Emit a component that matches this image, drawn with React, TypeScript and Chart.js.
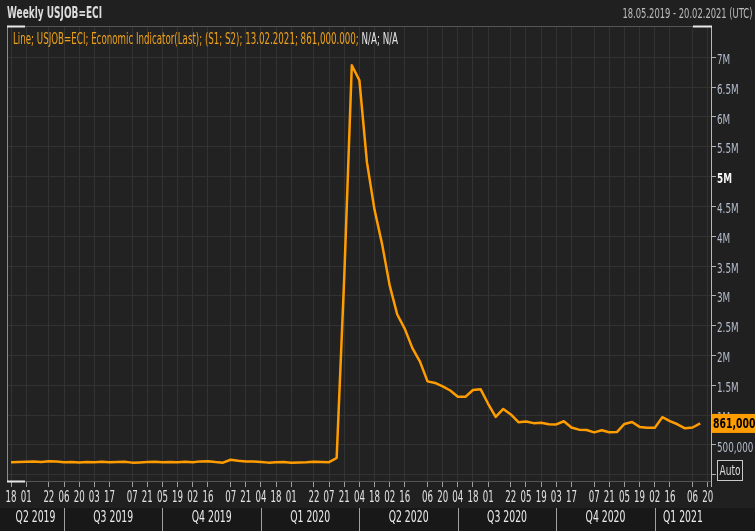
import React, { useEffect, useLayoutEffect, useRef } from 'react';
import { Chart, registerables } from 'chart.js';

Chart.register(...registerables);

// ---------- data ----------
const FIRST_WEEK = '2019-05-18'; // week ending dates, one value per week
const claims = [
  // 2019
  211000, 215000, 218000, 222000, 216000, 227000, 221000, 209000, 216000, 206000,
  215000, 209000, 220000, 209000, 215000, 217000, 204000, 208000, 213000, 219000,
  210000, 214000, 212000, 218000, 211000, 225000, 227000, 213000, 203000, 252000,
  234000, 222000, 222000,
  // 2020
  214000, 204000, 211000, 216000, 202000, 205000, 210000, 219000, 216000, 211000,
  282000, 3307000, 6867000, 6615000, 5237000, 4442000, 3867000, 3176000, 2687000, 2446000,
  2123000, 1897000, 1566000, 1540000, 1482000, 1413000, 1310000, 1307000, 1422000, 1435000,
  1191000, 971000, 1104000, 1011000, 881000, 893000, 866000, 873000, 849000, 845000,
  898000, 794000, 757000, 751000, 711000, 748000, 712000, 716000, 853000, 885000,
  803000, 787000,
  // 2021
  787000, 965000, 900000, 847000, 779000, 793000, 861000,
];

const tickDates = [
  '2019-05-18', '2019-06-01', '2019-06-22', '2019-07-06', '2019-07-20', '2019-08-03', '2019-08-17',
  '2019-09-07', '2019-09-21', '2019-10-05', '2019-10-19', '2019-11-02', '2019-11-16', '2019-12-07',
  '2019-12-21', '2020-01-04', '2020-01-18', '2020-02-01', '2020-02-22', '2020-03-07', '2020-03-21',
  '2020-04-04', '2020-04-18', '2020-05-02', '2020-05-16', '2020-06-06', '2020-06-20', '2020-07-04',
  '2020-07-18', '2020-08-01', '2020-08-22', '2020-09-05', '2020-09-19', '2020-10-03', '2020-10-17',
  '2020-11-07', '2020-11-21', '2020-12-05', '2020-12-19', '2021-01-02', '2021-01-16', '2021-02-06',
  '2021-02-20',
];

const quarterLabels = ['Q2 2019', 'Q3 2019', 'Q4 2019', 'Q1 2020', 'Q2 2020', 'Q3 2020', 'Q4 2020', 'Q1 2021'];
const quarterStarts = ['2019-07-06', '2019-10-05', '2020-01-04', '2020-04-04', '2020-07-04', '2020-10-03', '2021-01-02'];

const yTicks = [0, 500000, 1000000, 1500000, 2000000, 2500000, 3000000, 3500000, 4000000, 4500000, 5000000, 5500000, 6000000, 6500000, 7000000];
const yTickLabels = ['', '500,000', '1M', '1.5M', '2M', '2.5M', '3M', '3.5M', '4M', '4.5M', '5M', '5.5M', '6M', '6.5M', '7M'];

const lastValueLabel = '861,000.000';
const titleText = 'Weekly USJOB=ECI';
const rangeText = '18.05.2019 - 20.02.2021 (UTC)';
const legendMain = 'Line; USJOB=ECI; Economic Indicator(Last); (S1; S2); 13.02.2021; 861,000.000;';
const legendTail = ' N/A; N/A';

// axis extents
const X_MIN = -3.7;
const X_MAX = 647;
const Y_MIN = -104000;
const Y_MAX = 7524000;

// ---------- helpers ----------
const dayOf = (s: string) => {
  const [y, m, d] = s.split('-').map(Number);
  const [y0, m0, d0] = FIRST_WEEK.split('-').map(Number);
  return Math.round((Date.UTC(y, m - 1, d) - Date.UTC(y0, m0 - 1, d0)) / 86400000);
};
const tickDays = tickDates.map(dayOf);
const quarterDays = quarterStarts.map(dayOf);
const points = claims.map((v, i) => ({ x: i * 7, y: v }));

const FONT = "'DejaVu Sans Condensed', 'Liberation Sans Narrow', 'DejaVu Sans', sans-serif";

function FitText({ width, origin, style, children }: any) {
  const ref = useRef<HTMLSpanElement>(null);
  useLayoutEffect(() => {
    const el = ref.current;
    if (!el) return;
    el.style.transform = 'none';
    const w = el.getBoundingClientRect().width;
    if (w > 0) el.style.transform = `scaleX(${width / w})`;
  });
  return (
    <span
      ref={ref}
      style={{ display: 'inline-block', whiteSpace: 'nowrap', transformOrigin: origin || 'left top', fontFamily: FONT, ...style }}
    >
      {children}
    </span>
  );
}

function squeezedText(ctx: any, text: string, x: number, y: number, sx: number, align: string) {
  ctx.save();
  ctx.translate(x, y);
  ctx.scale(sx, 1);
  ctx.textAlign = align;
  ctx.fillText(text, 0, 0);
  ctx.restore();
}

const decorPlugin = {
  id: 'decor',
  beforeDraw(chart: any) {
    const { ctx, chartArea: a, width, height } = chart;
    ctx.save();
    ctx.fillStyle = '#202020';
    ctx.fillRect(0, 0, width, height);
    ctx.fillStyle = '#222222';
    ctx.fillRect(a.left, a.top, a.right - a.left, a.bottom - a.top);
    ctx.fillStyle = '#181818';
    ctx.fillRect(0, 508, width, height - 508);
    ctx.restore();
  },
  afterDraw(chart: any) {
    const { ctx, chartArea: a, width } = chart;
    const xs = chart.scales.x;
    const ys = chart.scales.y;
    ctx.save();
    // frame
    ctx.lineWidth = 1;
    ctx.strokeStyle = '#555555';
    ctx.beginPath();
    ctx.moveTo(a.left, a.top + 0.5);
    ctx.lineTo(a.right, a.top + 0.5);
    ctx.moveTo(a.left, a.bottom + 0.5);
    ctx.lineTo(a.right, a.bottom + 0.5);
    ctx.stroke();
    ctx.strokeStyle = '#8a8a8a';
    ctx.beginPath();
    ctx.moveTo(a.left + 0.5, a.top);
    ctx.lineTo(a.left + 0.5, a.bottom + 1);
    ctx.stroke();
    ctx.strokeStyle = '#b8b8b8';
    ctx.beginPath();
    ctx.moveTo(a.right + 0.5, a.top);
    ctx.lineTo(a.right + 0.5, a.bottom + 6);
    ctx.stroke();
    // highlight segments
    ctx.strokeStyle = '#e8e8e8';
    ctx.lineWidth = 2;
    ctx.beginPath();
    ctx.moveTo(a.left, a.top + 0.5);
    ctx.lineTo(a.left + 18, a.top + 0.5);
    ctx.moveTo(a.right - 18, a.top + 0.5);
    ctx.lineTo(a.right + 1, a.top + 0.5);
    ctx.moveTo(a.left, a.bottom + 0.5);
    ctx.lineTo(a.left + 18, a.bottom + 0.5);
    ctx.stroke();

    // x tick labels (from the scale's ticks)
    ctx.fillStyle = '#e2e2e2';
    ctx.font = `15px ${FONT}`;
    ctx.textBaseline = 'middle';
    xs.ticks.forEach((t: any) => {
      const i = tickDays.indexOf(t.value);
      if (i < 0) return;
      const label = tickDates[i].slice(8, 10);
      squeezedText(ctx, label, xs.getPixelForValue(t.value), 498, 0.64, 'center');
    });

    // y tick labels
    ys.ticks.forEach((t: any) => {
      const i = yTicks.indexOf(t.value);
      if (i < 0 || !yTickLabels[i]) return;
      const major = t.value === 5000000;
      ctx.fillStyle = major ? '#f4f4f4' : '#b2bccc';
      ctx.font = `${major ? 'bold ' : ''}14px ${FONT}`;
      squeezedText(ctx, yTickLabels[i], a.right + 6, ys.getPixelForValue(t.value) + 3, 0.7, 'left');
    });

    // quarter row
    const edges = [a.left, ...quarterDays.map((d) => xs.getPixelForValue(d)), a.right];
    ctx.strokeStyle = '#a0a0a0';
    ctx.lineWidth = 1;
    ctx.beginPath();
    quarterDays.forEach((d) => {
      const px = Math.round(xs.getPixelForValue(d)) + 0.5;
      ctx.moveTo(px, 508);
      ctx.lineTo(px, 531);
    });
    ctx.stroke();
    ctx.fillStyle = '#ececec';
    ctx.font = `15px ${FONT}`;
    ctx.textBaseline = 'middle';
    quarterLabels.forEach((q, i) => {
      squeezedText(ctx, q, (edges[i] + edges[i + 1]) / 2, 518, 0.69, 'center');
    });

    // last value badge
    const lastVal = claims[claims.length - 1];
    const py = ys.getPixelForValue(lastVal);
    ctx.fillStyle = '#ff9c00';
    ctx.fillRect(a.right + 1, py - 9.5, width - a.right, 19);
    ctx.fillStyle = '#000000';
    ctx.font = `bold 14px ${FONT}`;
    ctx.textBaseline = 'middle';
    squeezedText(ctx, lastValueLabel, a.right + 2, py + 0.5, 0.74, 'left');

    // Auto box
    ctx.fillStyle = '#1c1c1c';
    ctx.fillRect(717, 460, 25, 20);
    ctx.strokeStyle = '#c8c8c8';
    ctx.lineWidth = 1;
    ctx.strokeRect(717.5, 460.5, 25, 20);
    ctx.fillStyle = '#dcdcdc';
    ctx.font = `14px ${FONT}`;
    ctx.textBaseline = 'middle';
    squeezedText(ctx, 'Auto', 730, 471, 0.72, 'center');
    ctx.restore();
  },
};

export default function App() {
  const canvasRef = useRef<HTMLCanvasElement>(null);

  useEffect(() => {
    document.body.style.margin = '0';
    const canvas = canvasRef.current;
    if (!canvas) return;
    const chart = new Chart(canvas, {
      type: 'line',
      data: {
        datasets: [
          {
            data: points,
            borderColor: '#ff9c00',
            borderWidth: 2.5,
            pointRadius: 0,
            tension: 0,
            fill: false,
            borderJoinStyle: 'round',
          },
        ],
      },
      options: {
        animation: false,
        responsive: false,
        maintainAspectRatio: false,
        events: [],
        layout: { padding: { left: 7, top: 26, right: 0, bottom: 0 } },
        plugins: { legend: { display: false }, tooltip: { enabled: false } },
        scales: {
          x: {
            type: 'linear',
            position: 'bottom',
            min: X_MIN,
            max: X_MAX,
            afterBuildTicks: (s: any) => {
              s.ticks = tickDays.map((v) => ({ value: v }));
            },
            afterFit: (s: any) => {
              s.height = 50;
            },
            ticks: { display: false, autoSkip: false, maxRotation: 0, minRotation: 0 },
            grid: { color: '#323232', lineWidth: 1, drawTicks: true, tickLength: 6, tickColor: '#a0a0a0' },
            border: { display: false },
          },
          y: {
            type: 'linear',
            position: 'right',
            min: Y_MIN,
            max: Y_MAX,
            afterBuildTicks: (s: any) => {
              s.ticks = yTicks.map((v) => ({ value: v }));
            },
            afterFit: (s: any) => {
              s.width = 44;
            },
            ticks: { display: false },
            grid: { color: '#323232', lineWidth: 1, drawTicks: true, tickLength: 5, tickColor: '#b0b0b0' },
            border: { display: false },
          },
        },
      } as any,
      plugins: [decorPlugin],
    });
    return () => chart.destroy();
  }, []);

  return (
    <div style={{ position: 'relative', width: 755, height: 531, overflow: 'hidden', background: '#202020' }}>
      <canvas ref={canvasRef} width={755} height={531} style={{ position: 'absolute', left: 0, top: 0, width: 755, height: 531 }} />
      <div style={{ position: 'absolute', left: 7, top: 4, fontSize: 15, fontWeight: 'bold', color: '#dcdcdc', lineHeight: 'normal' }}>
        <FitText width={95}>{titleText}</FitText>
      </div>
      <div style={{ position: 'absolute', right: 3, top: 5, fontSize: 14, color: '#bdbdbd', lineHeight: 'normal' }}>
        <FitText width={130} origin="right top">{rangeText}</FitText>
      </div>
      <div style={{ position: 'absolute', left: 13, top: 30, fontSize: 15, lineHeight: 'normal' }}>
        <FitText width={385}>
          <span style={{ color: '#eea21a' }}>{legendMain}</span>
          <span style={{ color: '#e4e4e4' }}>{legendTail}</span>
        </FitText>
      </div>
    </div>
  );
}
